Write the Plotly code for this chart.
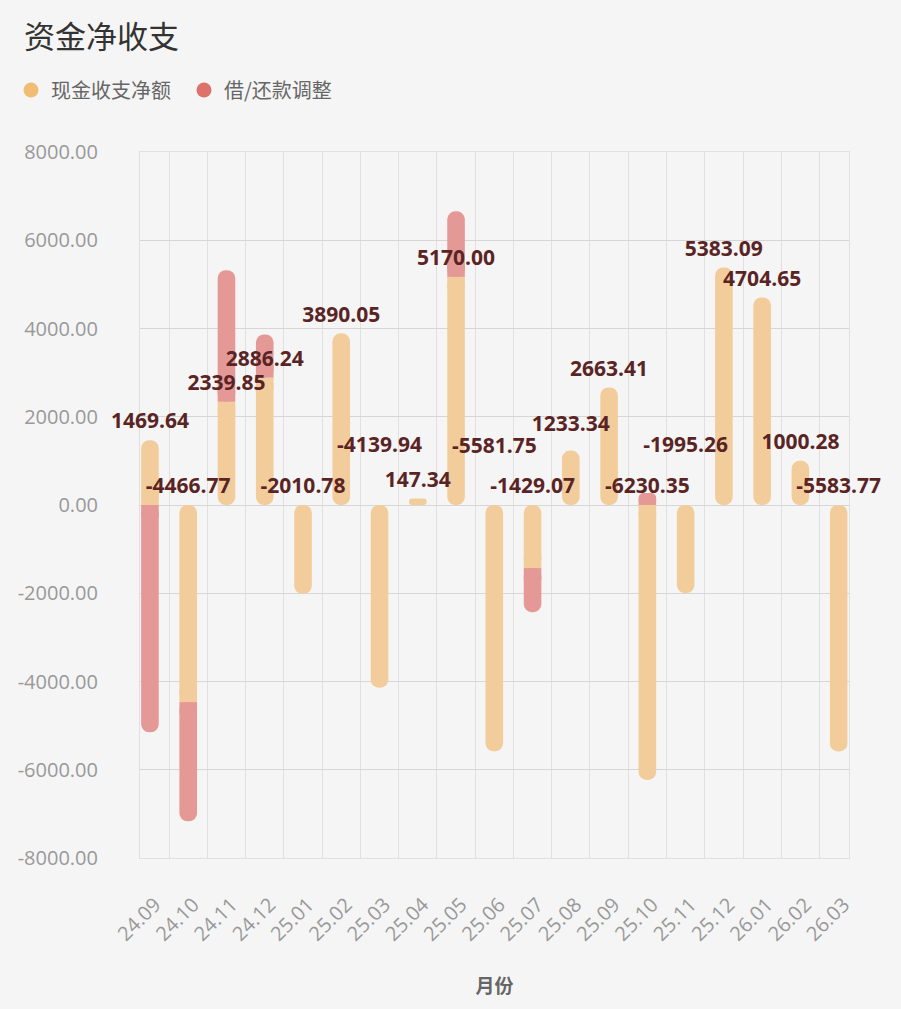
import plotly.graph_objects as go

# ---------------- data ----------------
months = ["24.09", "24.10", "24.11", "24.12", "25.01", "25.02", "25.03", "25.04",
          "25.05", "25.06", "25.07", "25.08", "25.09", "25.10", "25.11", "25.12",
          "26.01", "26.02", "26.03"]
cash_net = [1469.64, -4466.77, 2339.85, 2886.24, -2010.78, 3890.05, -4139.94, 147.34,
            5170.00, -5581.75, -1429.07, 1233.34, 2663.41, -6230.35, -1995.26, 5383.09,
            4704.65, 1000.28, -5583.77]
adjust = [-5150, -2700, 2980, 980, 0, 0, 0, 0,
          1485, 0, -1000, 0, 0, 270, 0, 0,
          0, 0, 0]
series_names = ["现金收支净额", "借/还款调整"]
y_ticks = [-8000, -6000, -4000, -2000, 0, 2000, 4000, 6000, 8000]
y_tick_labels = [f"{v:.2f}" for v in y_ticks]
# extra upward pixel nudges for labels that the original chart moved to avoid overlap
label_nudge = [0, 0, 0, 0, 0, 0, 41, 0, 0, 40, 0, 8, 0, 0, 41, 0, 0, 0, 0]

# ---------------- styles ----------------
C_ORANGE = "#F1BC74"
C_RED = "#DD726D"
BG = "#F5F5F5"
ALPHA = 0.7
GRID_Y = "#D6D6D6"
GRID_X = "#E0E0E0"
BAR_W = 0.46
W, H = 901, 1009
M = dict(l=140, r=52, t=152, b=151)
Y_RANGE = [-8000, 8000]
units_per_px = (Y_RANGE[1] - Y_RANGE[0]) / (H - M["t"] - M["b"])
PATCH = 12 * units_per_px  # length of square patch that flattens a junction end


def blend(hex_fg, hex_bg, a):
    f = [int(hex_fg[i:i + 2], 16) for i in (1, 3, 5)]
    b = [int(hex_bg[i:i + 2], 16) for i in (1, 3, 5)]
    return "#" + "".join(f"{round(a * x + (1 - a) * y):02X}" for x, y in zip(f, b))


def sgn(v):
    return 1 if v > 0 else -1


BAR_ORANGE = blend(C_ORANGE, BG, ALPHA)
BAR_RED = blend(C_RED, BG, ALPHA)

# rounded pills (explicit base -> both ends rounded) and square patches on top
rx, rb, ry, rc = [], [], [], []
sx, sb, sy, sc = [], [], [], []
for m, o, r in zip(months, cash_net, adjust):
    rx.append(m); rb.append(0); ry.append(o); rc.append(BAR_ORANGE)
    if r == 0:
        continue
    po = sgn(o) * min(abs(o) / 2, PATCH)
    pr = sgn(r) * min(abs(r) / 2, PATCH)
    if (r > 0) == (o > 0):
        rx.append(m); rb.append(o); ry.append(r); rc.append(BAR_RED)
        sx += [m, m]; sb += [o - po, o]; sy += [po, pr]; sc += [BAR_ORANGE, BAR_RED]
    else:
        rx.append(m); rb.append(0); ry.append(r); rc.append(BAR_RED)
        sx += [m, m]; sb += [0, 0]; sy += [po, pr]; sc += [BAR_ORANGE, BAR_RED]

fig = go.Figure()
fig.add_trace(go.Bar(x=rx, y=ry, base=rb, width=BAR_W,
                     marker=dict(color=rc, line=dict(width=0), cornerradius="50%"),
                     showlegend=False, hoverinfo="skip"))
fig.add_trace(go.Bar(x=sx, y=sy, base=sb, width=BAR_W,
                     marker=dict(color=sc, line=dict(width=0)),
                     showlegend=False, hoverinfo="skip"))
# legend entries (round symbols)
for nm, c in zip(series_names, [C_ORANGE, C_RED]):
    fig.add_trace(go.Scatter(x=[None], y=[None], mode="markers", name=nm,
                             marker=dict(symbol="circle", size=15, color=c)))

# value labels above the cash bars
label_y = [max(o, 0) + (17 + n) * units_per_px for o, n in zip(cash_net, label_nudge)]
fig.add_trace(go.Scatter(
    x=months, y=label_y, mode="text", text=[f"{o:.2f}" for o in cash_net],
    textposition="middle center", cliponaxis=False, showlegend=False, hoverinfo="skip",
    textfont=dict(family="Open Sans, sans-serif", size=21, color="#5A2424", weight="bold")))

fig.update_layout(
    width=W, height=H,
    margin=M,
    paper_bgcolor=BG, plot_bgcolor=BG,
    barmode="overlay",
    font=dict(family="Open Sans, Noto Sans CJK SC, sans-serif", color="#666"),
    title=dict(text="资金净收支", x=24 / W, xref="container", xanchor="left",
               y=1 - 37 / H, yref="container", yanchor="middle",
               font=dict(family="Noto Sans CJK SC, sans-serif", size=31, color="#333")),
    legend=dict(orientation="h", xref="container", yref="container",
                x=11 / W, xanchor="left", y=1 - 90 / H, yanchor="middle",
                font=dict(family="Noto Sans CJK SC, sans-serif", size=20, color="#666"),
                itemsizing="trace", bgcolor="rgba(0,0,0,0)",
                entrywidth=128, entrywidthmode="pixels"),
    showlegend=True,
)
fig.update_xaxes(
    type="category", categoryorder="array", categoryarray=months,
    range=[-0.26, 18.27], tickson="boundaries", tickangle=-45,
    showgrid=True, gridcolor=GRID_X, gridwidth=1,
    showline=True, mirror=True, linecolor=GRID_X, linewidth=1, layer="below traces",
    ticks="", ticklabelstandoff=26, ticklabelshift=5,
    tickfont=dict(family="Open Sans, sans-serif", size=20, color="#999"),
    title=dict(text="月份", standoff=34,
               font=dict(family="Noto Sans CJK SC, sans-serif", size=19, color="#666", weight="bold")),
)
fig.update_yaxes(
    range=Y_RANGE, tickmode="array", tickvals=y_ticks, ticktext=y_tick_labels,
    showgrid=True, gridcolor=GRID_Y, gridwidth=1,
    zeroline=True, zerolinecolor=GRID_Y, zerolinewidth=1,
    showline=True, mirror=True, linecolor=GRID_X, linewidth=1, layer="below traces",
    ticks="", ticklabelstandoff=37,
    tickfont=dict(family="Open Sans, sans-serif", size=20, color="#999"),
)

fig.write_html(
    "out.html",
    config={"displayModeBar": False},
    post_script="document.body.style.margin='0';document.body.style.overflow='hidden';"
                "document.body.style.background='#F5F5F5';",
)
